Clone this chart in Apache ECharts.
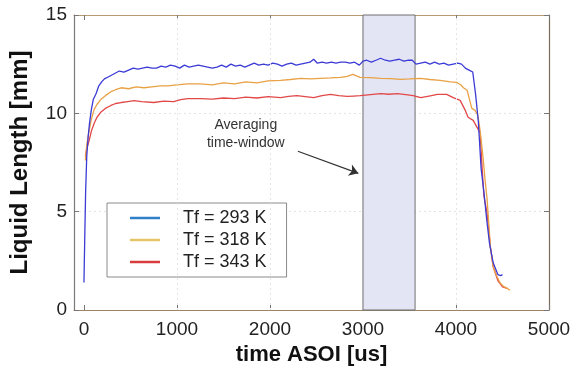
<!DOCTYPE html>
<html>
<head>
<meta charset="utf-8">
<script src="https://cdn.jsdelivr.net/npm/echarts@6/dist/echarts.min.js"></script>
<style>html,body{margin:0;padding:0;background:#fff;}#c{width:576px;height:374px;}</style>
</head>
<body>
<div id="c"></div>
<script>
// ---- data ----
var seriesNames = ['Tf = 293 K', 'Tf = 318 K', 'Tf = 343 K'];
var xTicks = [0, 1000, 2000, 3000, 4000, 5000];
var xGrid = [1000, 2000, 4000];
var yTicks = [0, 5, 10, 15];
var windowRange = [3000, 3560];
var annotationText = 'Averaging\ntime-window';

var blueT = [0, 8, 18, 30, 45, 60, 80, 100, 130, 160, 190, 220, 260, 300, 340, 380, 430, 480, 530, 580, 630, 680, 730, 780, 830, 880, 930, 980, 1030, 1080, 1130, 1180, 1230, 1280, 1330, 1380, 1430, 1480, 1530, 1580, 1630, 1680, 1730, 1780, 1830, 1880, 1930, 1980, 2030, 2080, 2130, 2180, 2230, 2280, 2330, 2380, 2430, 2470, 2510, 2560, 2610, 2660, 2710, 2760, 2810, 2860, 2910, 2960, 3000, 3040, 3090, 3140, 3190, 3240, 3290, 3340, 3390, 3440, 3490, 3530, 3570, 3620, 3670, 3720, 3770, 3820, 3870, 3920, 3970, 4020, 4060, 4100, 4140, 4180, 4210, 4240, 4270, 4300, 4330, 4360, 4400, 4450, 4480, 4500];
var blueV = [1.4, 3.5, 6.0, 7.8, 8.8, 9.5, 10.2, 10.7, 11.0, 11.4, 11.6, 11.75, 11.85, 11.95, 12.05, 12.15, 12.1, 12.2, 12.3, 12.25, 12.3, 12.35, 12.3, 12.3, 12.4, 12.35, 12.45, 12.4, 12.3, 12.45, 12.35, 12.4, 12.45, 12.4, 12.35, 12.3, 12.35, 12.45, 12.35, 12.5, 12.4, 12.45, 12.35, 12.45, 12.55, 12.45, 12.5, 12.45, 12.55, 12.5, 12.4, 12.5, 12.55, 12.45, 12.5, 12.55, 12.6, 12.75, 12.55, 12.6, 12.55, 12.6, 12.55, 12.6, 12.6, 12.55, 12.6, 12.45, 12.65, 12.7, 12.6, 12.7, 12.8, 12.7, 12.65, 12.7, 12.75, 12.65, 12.7, 12.7, 12.5, 12.55, 12.6, 12.5, 12.6, 12.5, 12.55, 12.45, 12.5, 12.55, 12.5, 12.3, 12.2, 12.1, 11.0, 9.6, 7.2, 6.0, 4.6, 3.4, 2.4, 1.8, 1.75, 1.8];

var orangeT = [15, 30, 55, 80, 110, 140, 180, 230, 290, 340, 400, 480, 560, 645, 730, 820, 900, 1000, 1115, 1255, 1380, 1500, 1620, 1740, 1860, 1980, 2114, 2220, 2330, 2440, 2540, 2650, 2760, 2830, 2890, 2930, 2970, 3080, 3190, 3300, 3400, 3500, 3620, 3720, 3830, 3940, 4010, 4050, 4080, 4120, 4170, 4205, 4235, 4260, 4290, 4313, 4335, 4370, 4400, 4440, 4475, 4510, 4550, 4580];
var orangeV = [7.6, 8.4, 9.1, 9.7, 10.2, 10.45, 10.7, 10.9, 11.1, 11.2, 11.3, 11.25, 11.35, 11.3, 11.35, 11.4, 11.4, 11.45, 11.5, 11.5, 11.45, 11.55, 11.5, 11.6, 11.55, 11.65, 11.68, 11.72, 11.78, 11.75, 11.78, 11.8, 11.83, 11.88, 11.98, 11.9, 11.83, 11.82, 11.78, 11.76, 11.73, 11.75, 11.78, 11.72, 11.68, 11.6, 11.57, 11.45, 11.3, 11.17, 10.25, 10.15, 9.9, 9.1, 7.8, 6.6, 5.6, 3.2, 2.2, 1.7, 1.37, 1.2, 1.1, 1.0];

var redT = [15, 30, 55, 80, 110, 140, 180, 230, 290, 340, 400, 470, 540, 620, 750, 860, 965, 1040, 1115, 1255, 1380, 1500, 1620, 1740, 1860, 1980, 2114, 2200, 2290, 2380, 2470, 2560, 2650, 2740, 2830, 2900, 2970, 3080, 3190, 3280, 3370, 3460, 3540, 3620, 3710, 3800, 3900, 3970, 4045, 4100, 4130, 4185, 4225, 4260, 4280, 4300, 4335, 4370, 4400, 4450, 4500, 4550];
var redV = [7.8, 8.2, 8.6, 9.1, 9.5, 9.8, 10.05, 10.25, 10.4, 10.5, 10.55, 10.6, 10.65, 10.6, 10.55, 10.62, 10.6, 10.7, 10.75, 10.75, 10.72, 10.78, 10.75, 10.82, 10.78, 10.85, 10.8, 10.86, 10.9, 10.85, 10.8, 10.9, 10.96, 10.9, 10.86, 10.88, 10.9, 10.95, 11.0, 10.97, 11.0, 10.95, 10.9, 10.8, 10.88, 10.96, 10.96, 10.8, 10.66, 10.15, 9.8, 9.64, 9.3, 9.0, 7.3, 5.8, 4.9, 3.2, 2.2, 1.5, 1.17, 1.1];

var lineColors = ['#3b3bd6', '#e9a145', '#e24848'];
var legendColors = ['#2f80c8', '#e8c468', '#d83c3c'];

function pairs(t, v) { return t.map(function (x, i) { return [x, v[i]]; }); }

var chart = echarts.init(document.getElementById('c'), null, { renderer: 'canvas' });
var fontFam = 'Liberation Sans, Arial, sans-serif';

var option = {
  animation: false,
  backgroundColor: '#ffffff',
  grid: { left: 73, right: 27, top: 15, bottom: 64, containLabel: false },
  legend: {
    orient: 'vertical',
    left: 107, top: 203,
    backgroundColor: '#ffffff',
    borderColor: '#8a8a8a', borderWidth: 1,
    padding: [6, 20, 6, 23],
    itemGap: 4,
    itemWidth: 30, itemHeight: 2.5,
    icon: 'rect',
    textStyle: { fontFamily: fontFam, fontSize: 18, color: '#222', padding: [0, 0, 0, 18] },
    data: seriesNames.map(function (n, i) { return { name: n, itemStyle: { color: legendColors[i] } }; })
  },
  xAxis: [{
    type: 'value', position: 'bottom', min: -107, max: 5000,
    name: 'time ASOI [us]', nameLocation: 'middle', nameGap: 33,
    nameTextStyle: { fontFamily: fontFam, fontSize: 22, fontWeight: 'bold', color: '#111' },
    axisLine: { show: true, onZero: false, lineStyle: { color: '#9c8468', width: 1.2 } },
    axisTick: { show: true, inside: true, length: 5, customValues: xTicks, lineStyle: { color: '#777' } },
    axisLabel: { show: true, customValues: xTicks, margin: 10, fontFamily: fontFam, fontSize: 19, color: '#222',
      formatter: function (v) { return String(v); } },
    splitLine: { show: false }
  }, {
    type: 'value', position: 'top', min: -107, max: 5000,
    axisLine: { show: true, onZero: false, lineStyle: { color: '#b89a70', width: 1.2 } },
    axisTick: { show: true, inside: true, length: 5, customValues: xTicks, lineStyle: { color: '#777' } },
    axisLabel: { show: false },
    splitLine: { show: false }
  }],
  yAxis: [{
    type: 'value', position: 'left', min: 0, max: 15, interval: 5,
    name: 'Liquid Length [mm]', nameLocation: 'middle', nameGap: 42,
    nameTextStyle: { fontFamily: fontFam, fontSize: 24, fontWeight: 'bold', color: '#111' },
    axisLine: { show: true, onZero: false, lineStyle: { color: '#7a7a7a', width: 1.2 } },
    axisTick: { show: true, inside: true, length: 5, lineStyle: { color: '#777' } },
    axisLabel: { show: true, margin: 7, fontFamily: fontFam, fontSize: 19, color: '#222',
      formatter: function (v) { return yTicks.indexOf(v) >= 0 ? String(v) : ''; } },
    splitLine: { show: true, lineStyle: { color: '#e4e4e4', type: [2, 3], width: 1 } }
  }, {
    type: 'value', position: 'right', min: 0, max: 15, interval: 5,
    axisLine: { show: true, onZero: false, lineStyle: { color: '#7c6c5c', width: 1.2 } },
    axisTick: { show: true, inside: true, length: 5, lineStyle: { color: '#777' } },
    axisLabel: { show: false },
    splitLine: { show: false }
  }],
  series: [
    {
      name: seriesNames[2], type: 'line', data: pairs(redT, redV), showSymbol: false, symbol: 'none',
      lineStyle: { color: lineColors[2], width: 1.3 }, itemStyle: { color: lineColors[2] }, z: 3,
      markArea: {
        silent: true,
        itemStyle: { color: '#e3e5f4', borderColor: '#6e6e6e', borderWidth: 1 },
        data: [[{ xAxis: windowRange[0], yAxis: 0 }, { xAxis: windowRange[1], yAxis: 15 }]]
      },
      markLine: {
        silent: true, symbol: ['none', 'none'],
        lineStyle: { color: '#e4e4e4', width: 1, type: [2, 3] },
        label: { show: false },
        data: xGrid.map(function (x) { return { xAxis: x }; })
      }
    },
    {
      name: seriesNames[1], type: 'line', data: pairs(orangeT, orangeV), showSymbol: false, symbol: 'none',
      lineStyle: { color: lineColors[1], width: 1.3 }, itemStyle: { color: lineColors[1] }, z: 3
    },
    {
      name: seriesNames[0], type: 'line', data: pairs(blueT, blueV), showSymbol: false, symbol: 'none',
      lineStyle: { color: lineColors[0], width: 1.3 }, itemStyle: { color: lineColors[0] }, z: 4,
      markLine: {
        silent: true, symbol: ['none', 'arrow'], symbolSize: 9,
        lineStyle: { color: '#333', width: 1.2, type: 'solid' },
        label: { show: false },
        data: [[{ coord: [2300, 8.07] }, { coord: [2950, 6.95] }]]
      },
      markPoint: {
        silent: true, symbol: 'circle', symbolSize: 0,
        label: { show: true, position: 'inside', formatter: annotationText, fontFamily: fontFam,
          fontSize: 14, lineHeight: 18, color: '#333' },
        data: [{ coord: [1740, 8.93] }]
      }
    }
  ]
};
chart.setOption(option);
</script>
</body>
</html>
